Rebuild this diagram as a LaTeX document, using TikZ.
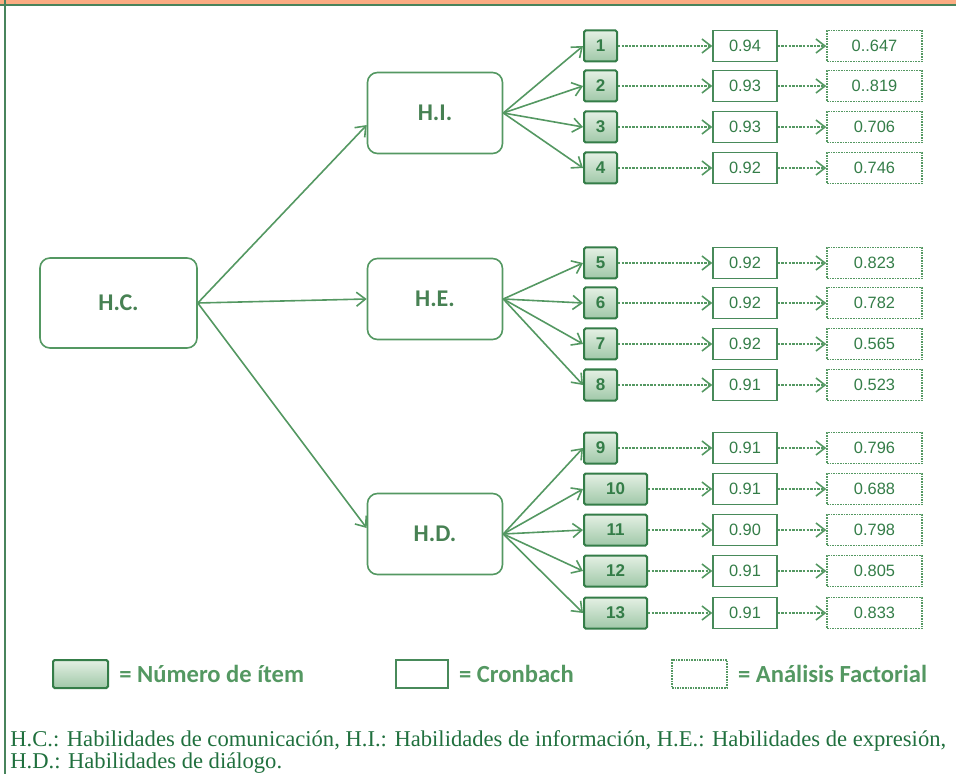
\documentclass[tikz,border=0pt]{standalone}
\usepackage{fontspec}
\setmainfont{Liberation Serif}
\newfontfamily\diagfont{Carlito}
\newfontfamily\numfont{Liberation Sans}
\usepackage{xcolor}
\usetikzlibrary{arrows.meta, positioning}
\definecolor{diaggreen}{RGB}{84, 152, 98}
\definecolor{itemdark}{RGB}{52, 125, 72}
\definecolor{itemlight}{RGB}{228, 240, 228}
\definecolor{itemmid}{RGB}{160, 200, 168}
\definecolor{bandorange}{RGB}{251, 172, 130}
\definecolor{framegreen}{RGB}{72, 132, 92}
\definecolor{notegreen}{RGB}{32, 112, 62}

\begin{document}
\begin{tikzpicture}[
        x=0.5pt, y=-0.5pt,
        parent/.style={
            draw=diaggreen,
            line width=0.8pt,
            rounded corners=5pt,
            minimum width=67.5pt,
            minimum height=40.5pt,
            font=\diagfont\bfseries\fontsize{12}{14}\selectfont,
            text=diaggreen!85!black
        },
        item/.style={
            draw=itemdark,
            line width=1pt,
            rounded corners=0.8pt,
            top color=itemlight, bottom color=itemmid,
            minimum height=15.5pt,
            inner sep=0pt,
            font=\numfont\bfseries\fontsize{8.5}{10}\selectfont,
            text=itemdark
        },
        cron/.style={
            draw=itemdark!90,
            line width=0.75pt,
            minimum width=32pt,
            minimum height=15.5pt,
            inner sep=0pt,
            font=\numfont\fontsize{8.2}{10}\selectfont,
            text=itemdark
        },
        fact/.style={
            draw=diaggreen,
            line width=0.75pt,
            dash pattern=on 0.8pt off 0.5pt,
            minimum width=47.5pt,
            minimum height=15.5pt,
            inner sep=0pt,
            font=\numfont\fontsize{8.2}{10}\selectfont,
            text=itemdark
        },
        conn/.style={-{Straight Barb[length=4.5pt, width=7pt]}, line width=0.8pt, diaggreen},
        dotconn/.style={-{Straight Barb[length=4.5pt, width=7pt]}, line width=0.8pt, diaggreen,
            dash pattern=on 1.2pt off 0.6pt},
        legtext/.style={font=\diagfont\bfseries\fontsize{12.3}{14}\selectfont, text=diaggreen, inner sep=0pt},
        note/.style={font=\fontsize{11.3}{13}\selectfont, text=notegreen, inner sep=0pt, anchor=base west}
    ]
        \useasboundingbox (0,0) rectangle (956,774);
        % Frame
        \fill[bandorange] (0,0) rectangle (956,4);
        \draw[framegreen, line width=1.2pt] (0,5) -- (956,5);
        \draw[framegreen, line width=1.2pt] (5,0) -- (5,774);
        % Skills
        \node[parent, minimum width=78.5pt, minimum height=45pt] (hc) at (118.5,303) {H.C.};
        \node[parent] (hi) at (435,113) {H.I.};
        \node[parent] (he) at (435,299) {H.E.};
        \node[parent] (hd) at (435,534) {H.D.};
        \draw[conn] (hc.east) -- (hi.190);
        \draw[conn] (hc.east) -- (he.west);
        \draw[conn] (hc.east) -- (hd.175);
        % Items, Cronbach and factorial loadings
        \foreach \n/\y/\w/\c/\f/\p in {
            1/46/16.5pt/0.94/0..647/hi, 2/86/16.5pt/0.93/0..819/hi,
            3/127/16.5pt/0.93/0.706/hi, 4/168/16.5pt/0.92/0.746/hi,
            5/263/16.5pt/0.92/0.823/he, 6/303/16.5pt/0.92/0.782/he,
            7/344/16.5pt/0.92/0.565/he, 8/385/16.5pt/0.91/0.523/he,
            9/448/16.5pt/0.91/0.796/hd, 10/489/31.5pt/0.91/0.688/hd,
            11/530/31.5pt/0.90/0.798/hd, 12/571/31.5pt/0.91/0.805/hd,
            13/613/31.5pt/0.91/0.833/hd}{
            \node[item, minimum width=\w, anchor=west] (it\n) at (583,\y) {\n};
            \node[cron] (cr\n) at (745,\y) {\c};
            \node[fact] (fa\n) at (874.5,\y) {\f};
            \draw[conn] (\p.east) -- (it\n.west);
            \draw[dotconn] (it\n) -- (cr\n);
            \draw[dotconn] (cr\n) -- (fa\n);
        }
        % Legend
        \node[item, minimum width=27.5pt, minimum height=14pt] (legitem) at (80.5,674) {};
        \node[legtext, right=5pt of legitem] {= Número de ítem};
        \node[cron, minimum width=26pt, minimum height=14pt] (legcron) at (422,674) {};
        \node[legtext, right=5pt of legcron] {= Cronbach};
        \node[fact, minimum width=27.5pt, minimum height=14pt] (legfact) at (699.5,674) {};
        \node[legtext, right=5pt of legfact] {= Análisis Factorial};
        % Notes
        \node[note] (note1) at (10,746) {H.C.: Habilidades de comunicación, H.I.: Habilidades de información, H.E.: Habilidades de expresión,};
        \node[note] (note2) at (10,768) {H.D.: Habilidades de diálogo.};
    \end{tikzpicture}
\end{document}
